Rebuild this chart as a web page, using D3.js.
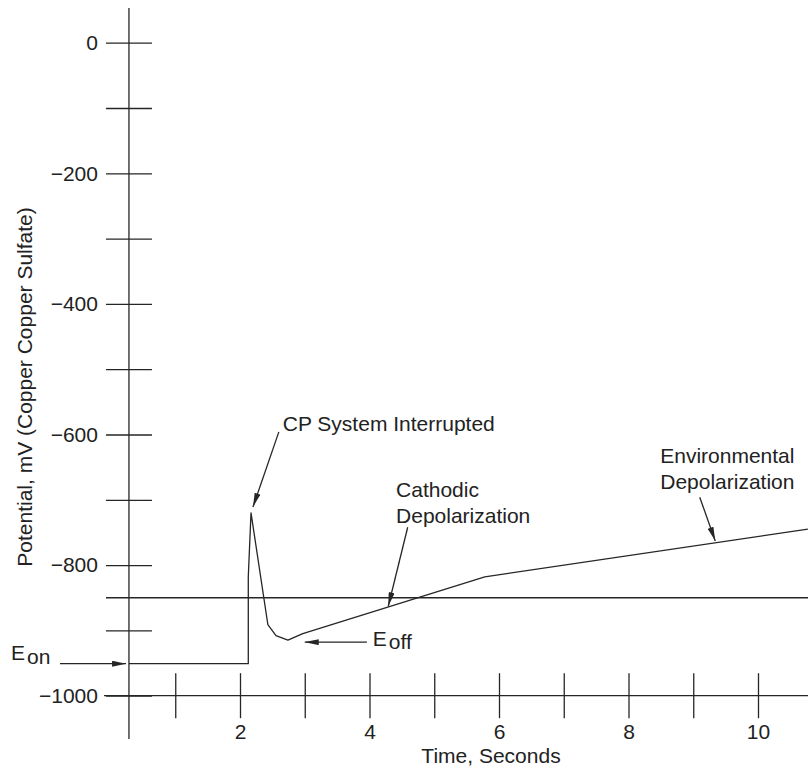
<!DOCTYPE html>
<html>
<head>
<meta charset="utf-8">
<script src="https://cdn.jsdelivr.net/npm/d3@7"></script>
<style>
  body { margin: 0; background: #fff; }
  svg text { font-family: "Liberation Sans", Arial, Helvetica, sans-serif; font-size: 21px; fill: #222; }
</style>
</head>
<body>
<div id="chart"></div>
<script>
// potential trace (seconds, mV CSE)
const traceTime = [0.285, 2.128, 2.128, 2.17, 2.43, 2.556, 2.74, 2.97, 5.78, 10.77];
const tracePotential = [-951, -951, -818, -720, -891, -908, -915, -905, -818, -745];

const criterion = -850;
const xTicks = [1, 2, 3, 4, 5, 6, 7, 8, 9, 10];
const xLabels = [2, 4, 6, 8, 10];
const yTicks = [0, -100, -200, -300, -400, -500, -600, -700, -800, -900, -1000];
const yLabels = [0, -200, -400, -600, -800, -1000];

// annotation arrows: [fromTime, frommV, toTime, tomV]
const arrows = [
  [2.60, -596, 2.20, -711],
  [4.59, -742, 4.29, -863],
  [9.10, -696, 9.34, -763],
  [3.96, -918, 3.00, -918],
  [-0.78, -951, 0.24, -951]
];
// annotation text: [time, mV, lines]
const notes = [
  [2.66, -594, ["CP System Interrupted"]],
  [4.41, -696, ["Cathodic", "Depolarization"]],
  [8.49, -644, ["Environmental", "Depolarization"]]
];

const width = 808;
const height = 767;
const ink = "#262626";

const svg = d3.select("#chart")
  .append("svg")
  .attr("width", width)
  .attr("height", height);

svg.append("defs")
  .append("marker")
  .attr("id", "head")
  .attr("viewBox", "0 0 14 6")
  .attr("refX", 14)
  .attr("refY", 3)
  .attr("markerWidth", 14)
  .attr("markerHeight", 6)
  .attr("markerUnits", "userSpaceOnUse")
  .attr("orient", "auto")
  .append("path")
  .attr("d", "M0,0L14,3L0,6Z")
  .attr("fill", ink);

const xScale = d3.scaleLinear().domain([0, 10]).range([110.5, 758]);
const yScale = d3.scaleLinear().domain([-1000, 0]).range([695.7, 42.7]);

const axisX = xScale(0.285);
const axisY = yScale(-1000);

// y axis
svg.append("line")
  .attr("x1", axisX).attr("x2", axisX)
  .attr("y1", 8).attr("y2", 739)
  .attr("stroke", ink).attr("stroke-width", 1.3);

const yAxis = svg.append("g")
  .attr("transform", `translate(${axisX},0)`)
  .call(d3.axisLeft(yScale)
    .tickValues(yTicks)
    .tickSize(23)
    .tickFormat(d => yLabels.includes(d) ? d3.format("d")(d) : ""));
yAxis.select(".domain").remove();
yAxis.selectAll(".tick line").attr("x1", 23).attr("x2", -23)
  .attr("stroke", ink).attr("stroke-width", 1.3);
yAxis.selectAll(".tick text").attr("x", -31)
  .style("font-size", "21px").attr("fill", "#222");

// x axis
svg.append("line")
  .attr("x1", 104).attr("x2", width)
  .attr("y1", axisY).attr("y2", axisY)
  .attr("stroke", ink).attr("stroke-width", 1.3);

const xAxis = svg.append("g")
  .attr("transform", `translate(0,${axisY})`)
  .call(d3.axisBottom(xScale)
    .tickValues(xTicks)
    .tickSize(22)
    .tickFormat(d => xLabels.includes(d) ? d : ""));
xAxis.select(".domain").remove();
xAxis.selectAll(".tick line").attr("y1", -22.5).attr("y2", 22.5)
  .attr("stroke", ink).attr("stroke-width", 1.3);
xAxis.selectAll(".tick text").attr("y", 28)
  .style("font-size", "21px").attr("fill", "#222");

// axis titles
svg.append("text")
  .attr("x", 491).attr("y", 763)
  .attr("text-anchor", "middle")
  .text("Time, Seconds");

svg.append("text")
  .attr("transform", "translate(32,387) rotate(-90)")
  .attr("text-anchor", "middle")
  .text("Potential, mV (Copper Copper Sulfate)");

// -850 mV criterion
svg.append("line")
  .attr("x1", 106).attr("x2", width)
  .attr("y1", yScale(criterion)).attr("y2", yScale(criterion))
  .attr("stroke", ink).attr("stroke-width", 1.3);

// trace
const trace = traceTime.map((t, i) => [t, tracePotential[i]]);
const line = d3.line().x(d => xScale(d[0])).y(d => yScale(d[1]));
svg.append("path")
  .datum(trace)
  .attr("d", line)
  .attr("fill", "none")
  .attr("stroke", ink)
  .attr("stroke-width", 1.3)
  .attr("stroke-linejoin", "round");

// arrows
svg.append("g")
  .selectAll("line")
  .data(arrows)
  .enter()
  .append("line")
  .attr("x1", d => xScale(d[0]))
  .attr("y1", d => yScale(d[1]))
  .attr("x2", d => xScale(d[2]))
  .attr("y2", d => yScale(d[3]))
  .attr("stroke", ink)
  .attr("stroke-width", 1.3)
  .attr("marker-end", "url(#head)");

// notes
notes.forEach(n => {
  const t = svg.append("text")
    .attr("x", xScale(n[0]))
    .attr("y", yScale(n[1]));
  n[2].forEach((s, i) => {
    t.append("tspan")
      .attr("x", xScale(n[0]))
      .attr("dy", i === 0 ? 0 : 26)
      .text(s);
  });
});

// E on / E off
const eOff = svg.append("text").attr("x", xScale(4.05)).attr("y", yScale(-924));
eOff.append("tspan").text("E");
eOff.append("tspan").attr("dx", 2).attr("dy", 3).text("off");

const eOn = svg.append("text").attr("x", 11).attr("y", yScale(-945));
eOn.append("tspan").text("E");
eOn.append("tspan").attr("dx", 2).attr("dy", 4).text("on");
</script>
</body>
</html>
